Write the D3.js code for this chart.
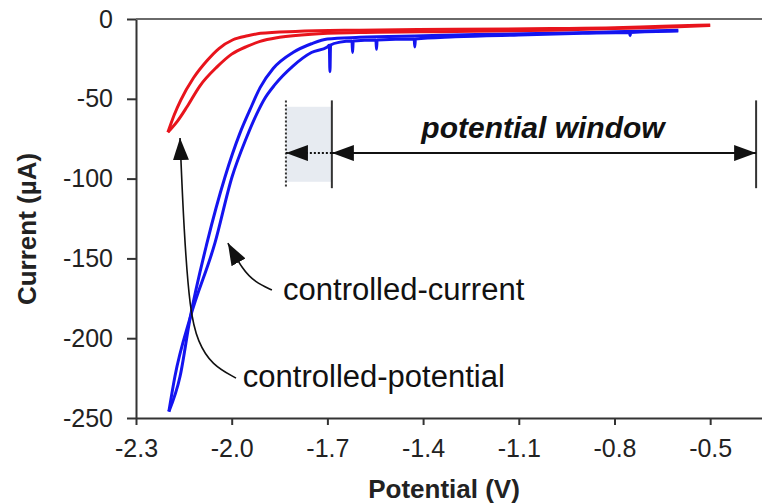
<!DOCTYPE html>
<html>
<head>
<meta charset="utf-8">
<script src="https://cdn.jsdelivr.net/npm/d3@7"></script>
<style>
  body { margin: 0; background: #fff; }
  svg { display: block; font-family: "Liberation Sans", Arial, sans-serif; }
</style>
</head>
<body>
<div id="chart"></div>
<script>
"use strict";

// axis ticks
var xTicks = [-2.3, -2.0, -1.7, -1.4, -1.1, -0.8, -0.5];
var yTicks = [0, -50, -100, -150, -200, -250];

// controlled-potential scan (red), two branches [V, uA]
var redOuter = [[-2.2,-71],[-2.18,-60],[-2.16,-51],[-2.12,-37],[-2.077,-26],[-2.04,-18.5],
                [-1.996,-13],[-1.95,-10.5],[-1.91,-9],[-1.8,-7.8],[-1.6,-7],[-1.3,-6.5],
                [-1.0,-6],[-0.8,-5.5],[-0.65,-4.5],[-0.5,-3.8]];
var redInner = [[-2.2,-71],[-2.17,-64],[-2.14,-55],[-2.1,-42],[-2.046,-30],[-2.0,-22],
                [-1.95,-17],[-1.911,-14],[-1.85,-11.5],[-1.75,-9.5],[-1.6,-8.5],[-1.3,-7.8],
                [-1.0,-7],[-0.8,-6],[-0.6,-4.8],[-0.5,-4]];

// controlled-current scan (blue), two branches [V, uA]
var blueUpper = [[-2.197,-246],[-2.162,-224],[-2.13,-187],[-2.077,-140],[-2.021,-99],
                 [-1.975,-72],[-1.943,-57],[-1.911,-43],[-1.87,-31],[-1.808,-21],[-1.75,-15.5],
                 [-1.70,-12.5],[-1.6,-11.5],[-1.4,-10.5],[-1.2,-9.5],[-1.0,-9],[-0.8,-8],[-0.6,-7]];
var blueLower = [[-2.197,-246],[-2.178,-224],[-2.13,-187],[-2.052,-140],[-1.999,-99],
                 [-1.955,-75],[-1.918,-58],[-1.9,-51],[-1.864,-41],[-1.808,-29.5],[-1.75,-21],
                 [-1.70,-17.5],[-1.694,-16.5],[-1.692,-33],[-1.690,-16.3],[-1.66,-14.5],
                 [-1.623,-13.8],[-1.621,-21],[-1.619,-13.8],[-1.548,-13.2],[-1.546,-19],
                 [-1.544,-13.2],[-1.428,-12.6],[-1.426,-17.5],[-1.424,-12.6],[-1.3,-11.2],
                 [-1.1,-10],[-0.9,-9],[-0.753,-8.4],[-0.751,-10.5],[-0.749,-8.4],[-0.6,-7.5]];

// potential window annotation
var windowEdges = [-1.686, -0.356];
var windowDotted = [-1.83];
var windowSpan = [-51, -106];
var shadeSpan = [-55, -102];
var windowArrowI = [-84];
var windowLabel = ["potential window"];
var windowLabelAt = [-1.024, -74.6];

// label callouts [V, uA]
var labels = ["controlled-current", "controlled-potential"];
var labelAt = [[-1.839, -176], [-1.965, -230.6]];
var currentArrow = [[-1.874,-169.8],[-1.927,-164.8],[-1.965,-157.3],[-2.012,-140.4]];
var potentialArrow = [[-1.9865,-225],[-2.062,-216.8],[-2.106,-202.4],[-2.131,-183.6],
                      [-2.150,-132.2],[-2.162,-74.6]];

var width = 762, height = 504;

var svg = d3.select("#chart")
            .append("svg")
            .attr("width", width)
            .attr("height", height);

var x = d3.scaleLinear()
          .domain([-2.3, -0.33])
          .range([136, 764.4]);

var y = d3.scaleLinear()
          .domain([-250, 0])
          .range([418, 19]);

// plain hyphen minus, like the original
function hyphen(fmt){
  return function(d){ return fmt(d).replace("\u2212", "-"); };
}

// arrow heads
var defs = svg.append("defs");
defs.append("marker")
    .attr("id", "head")
    .attr("markerUnits", "userSpaceOnUse")
    .attr("viewBox", "0 0 22 16")
    .attr("refX", 22)
    .attr("refY", 8)
    .attr("markerWidth", 22)
    .attr("markerHeight", 16)
    .attr("orient", "auto-start-reverse")
    .append("path")
    .attr("d", "M0,0L22,8L0,16Z")
    .attr("fill", "#111");

// shaded gap
svg.append("rect")
   .attr("x", x(windowDotted[0]))
   .attr("y", y(shadeSpan[0]))
   .attr("width", x(windowEdges[0]) - x(windowDotted[0]))
   .attr("height", y(shadeSpan[1]) - y(shadeSpan[0]))
   .attr("fill", "#e7ebf1");

// axes
var xAxis = d3.axisBottom(x)
              .tickValues(xTicks)
              .tickFormat(hyphen(d3.format(".1f")))
              .tickSize(7)
              .tickSizeOuter(0)
              .tickPadding(14);

var yAxis = d3.axisLeft(y)
              .tickValues(yTicks)
              .tickFormat(hyphen(d3.format("d")))
              .tickSize(9)
              .tickSizeOuter(0)
              .tickPadding(14);

var gX = svg.append("g")
            .attr("transform", "translate(0," + y(-250) + ")")
            .call(xAxis);

var gY = svg.append("g")
            .attr("transform", "translate(" + x(-2.3) + ",0)")
            .call(yAxis);

[gX, gY].forEach(function(g){
  g.selectAll("path, line").attr("stroke", "#333").attr("stroke-width", 2);
  g.selectAll("text")
   .attr("fill", "#222")
   .style("font-size", "25px")
   .style("font-family", "'Liberation Sans', Arial, sans-serif");
});

// top border
svg.append("line")
   .attr("x1", x(-2.3))
   .attr("x2", width)
   .attr("y1", y(0))
   .attr("y2", y(0))
   .attr("stroke", "#6a6a6a")
   .attr("stroke-width", 2);

// axis titles
svg.append("text")
   .attr("x", 444)
   .attr("y", 498)
   .attr("text-anchor", "middle")
   .attr("font-weight", "bold")
   .attr("font-size", "26px")
   .attr("fill", "#222")
   .text("Potential (V)");

svg.append("text")
   .attr("transform", "translate(36," + 229 + ") rotate(-90)")
   .attr("text-anchor", "middle")
   .attr("font-weight", "bold")
   .attr("font-size", "26px")
   .attr("fill", "#222")
   .text("Current (\u00b5A)");

// scans
var line = d3.line()
             .x(function(d){ return x(d[0]); })
             .y(function(d){ return y(d[1]); })
             .curve(d3.curveMonotoneX);

var scans = [
  {data: blueUpper, color: "#1414f0"},
  {data: blueLower, color: "#1414f0"},
  {data: redOuter,  color: "#e8141c"},
  {data: redInner,  color: "#e8141c"}
];

svg.append("g")
   .selectAll("path")
   .data(scans)
   .enter()
   .append("path")
   .attr("d", function(d){ return line(d.data); })
   .attr("fill", "none")
   .attr("stroke", function(d){ return d.color; })
   .attr("stroke-width", 3)
   .attr("stroke-linejoin", "round");

// potential window markers
var ann = svg.append("g");

ann.selectAll("line.edge")
   .data(windowEdges)
   .enter()
   .append("line")
   .attr("class", "edge")
   .attr("x1", function(d){ return x(d); })
   .attr("x2", function(d){ return x(d); })
   .attr("y1", y(windowSpan[0]))
   .attr("y2", y(windowSpan[1]))
   .attr("stroke", "#333")
   .attr("stroke-width", 2);

ann.append("line")
   .attr("x1", x(windowDotted[0]))
   .attr("x2", x(windowDotted[0]))
   .attr("y1", y(windowSpan[0]))
   .attr("y2", y(windowSpan[1]))
   .attr("stroke", "#333")
   .attr("stroke-width", 2)
   .attr("stroke-dasharray", "2,2");

ann.append("line")
   .attr("x1", x(windowEdges[0]))
   .attr("x2", x(windowEdges[1]))
   .attr("y1", y(windowArrowI[0]))
   .attr("y2", y(windowArrowI[0]))
   .attr("stroke", "#111")
   .attr("stroke-width", 2)
   .attr("marker-start", "url(#head)")
   .attr("marker-end", "url(#head)");

ann.append("line")
   .attr("x1", x(windowEdges[0]))
   .attr("x2", x(windowDotted[0]))
   .attr("y1", y(windowArrowI[0]))
   .attr("y2", y(windowArrowI[0]))
   .attr("stroke", "#111")
   .attr("stroke-width", 2)
   .attr("stroke-dasharray", "2,2")
   .attr("marker-end", "url(#head)");

ann.append("text")
   .attr("x", x(windowLabelAt[0]))
   .attr("y", y(windowLabelAt[1]))
   .attr("text-anchor", "middle")
   .attr("font-weight", "bold")
   .attr("font-style", "italic")
   .attr("font-size", "30px")
   .attr("fill", "#111")
   .text(windowLabel[0]);

// callouts
var callout = d3.line()
                .x(function(d){ return x(d[0]); })
                .y(function(d){ return y(d[1]); })
                .curve(d3.curveBasis);

ann.selectAll("path.callout")
   .data([currentArrow, potentialArrow])
   .enter()
   .append("path")
   .attr("class", "callout")
   .attr("d", callout)
   .attr("fill", "none")
   .attr("stroke", "#111")
   .attr("stroke-width", 1.6)
   .attr("marker-end", "url(#head)");

ann.selectAll("text.label")
   .data(labels)
   .enter()
   .append("text")
   .attr("class", "label")
   .attr("x", function(d, i){ return x(labelAt[i][0]); })
   .attr("y", function(d, i){ return y(labelAt[i][1]); })
   .attr("font-size", "31px")
   .attr("fill", "#111")
   .text(function(d){ return d; });
</script>
</body>
</html>
